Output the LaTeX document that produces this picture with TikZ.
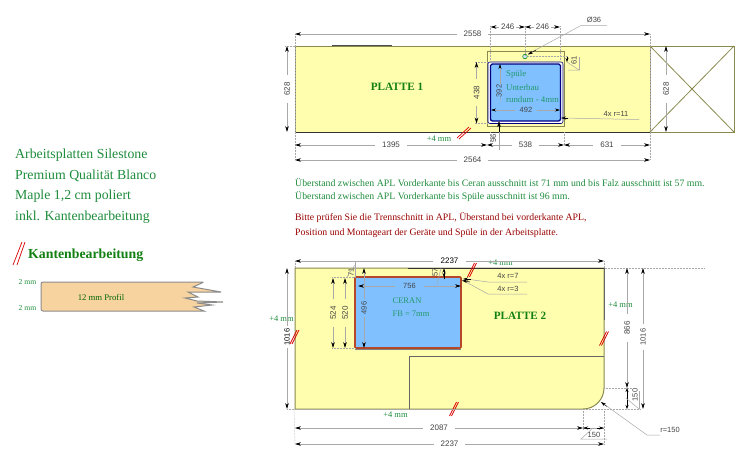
\documentclass[tikz,border=0pt]{standalone}
\usepackage{fontspec}
\setmainfont{Liberation Serif}
\setsansfont{Liberation Sans}
\usetikzlibrary{arrows.meta}
\definecolor{plate}{HTML}{FFFDAE}
\definecolor{sinkblue}{HTML}{80C0FF}
\definecolor{edgeol}{HTML}{8A8A50}
\definecolor{gtext}{HTML}{1E8C3C}
\definecolor{sinktxt}{HTML}{22996A}
\definecolor{ptitle}{HTML}{128012}
\definecolor{dimg}{HTML}{A8A8A8}
\definecolor{dimt}{HTML}{444444}
\definecolor{ceran}{HTML}{B5482A}
\definecolor{wood}{HTML}{F7D3A0}
\tikzset{
  x=1pt,y=-1pt,
  dimline/.style={draw=dimg,line width=0.7pt,{Stealth[length=6pt,width=3.6pt,black]}-{Stealth[length=6pt,width=3.6pt,black]}},
  leader/.style={draw=dimg,line width=0.5pt},
  ext/.style={draw=dimg,line width=0.5pt,densely dotted},
  dimtxt/.style={font=\sffamily\fontsize{8}{9}\selectfont,text=dimt,fill=white,inner xsep=7pt,inner ysep=1pt},
  dimtxtb/.style={font=\sffamily\fontsize{7.5}{8}\selectfont,text=dimt,inner sep=0.5pt},
  gnote/.style={font=\fontsize{8.5}{10}\selectfont,text=gtext,inner sep=0pt},
  snote/.style={font=\fontsize{8.8}{10}\selectfont,text=sinktxt,inner sep=0pt},
  ptxt/.style={font=\bfseries\fontsize{11.2}{14}\selectfont,text=ptitle,inner sep=0pt},
  lefttxt/.style={font=\fontsize{13.8}{15}\selectfont,text=gtext,anchor=west,inner sep=0pt},
  plateedge/.style={draw=edgeol,line width=1pt,fill=plate},
  slash/.style={draw=red!85!black,line width=0.7pt},
  notetxt/.style={font=\fontsize{9.8}{11}\selectfont,anchor=west,inner sep=0pt},
}
\newcommand{\hdim}[4]{\draw[dimline] (#1,#3) -- (#2,#3) node[midway,dimtxt] {#4};}
\newcommand{\vdim}[4]{\draw[dimline] (#3,#1) -- (#3,#2) node[midway,dimtxt,rotate=90] {#4};}
\newcommand{\vdimp}[4]{\draw[dimline] (#3,#1) -- (#3,#2) node[midway,dimtxt,fill=plate,rotate=90] {#4};}
\newcommand{\kslash}[2]{\draw[slash] (#1-4.5,#2+7) -- (#1+2.5,#2-7); \draw[slash] (#1-2.5,#2+7) -- (#1+4.5,#2-7);}
\begin{document}
\begin{tikzpicture}
\useasboundingbox[fill=white] (0,0) rectangle (750,461);
% ---- left legend
\node[lefttxt] at (15,155) {Arbeitsplatten Silestone};
\node[lefttxt] at (15,176) {Premium Qualität Blanco};
\node[lefttxt] at (15,196) {Maple 1,2 cm poliert};
\node[lefttxt] at (15,217) {inkl. Kantenbearbeitung};
\draw[slash] (13,265) -- (22,242); \draw[slash] (17,265) -- (25,242);
\node[font=\bfseries\fontsize{13.8}{15}\selectfont,text=ptitle,anchor=west,inner sep=0pt] at (28,255) {Kantenbearbeitung};
\node[gnote,font=\fontsize{7.6}{8}\selectfont] at (27.5,282) {2 mm};
\node[gnote,font=\fontsize{7.6}{8}\selectfont] at (27.5,308) {2 mm};
\draw[draw=black!45,line width=1pt,fill=wood,rounded corners=2pt]
  (41,282) -- (204,282) [sharp corners] -- (193,287) -- (221,292) -- (188,292) -- (198,297) -- (185,298) -- (197,301) -- (223,302) -- (197,303) -- (212,305) -- (194,307) -- (204,311) [rounded corners=2pt] -- (41,311) -- cycle;
\node[gnote,font=\fontsize{8.7}{9}\selectfont,text=black!20!green!50!black] at (101,297) {12 mm Profil};
% ---- plate 1
\draw[plateedge] (295,46) rectangle (650,132);
\draw[black!80,line width=1pt] (295,132) -- (650,132);
\draw[black!70,line width=1pt] (332,45.6) -- (392,45.6);
\draw[edgeol,line width=1pt] (650,46) rectangle (734,132);
\draw[edgeol,line width=0.8pt] (650,46) -- (734,132) (650,132) -- (734,46);
\draw[edgeol,line width=0.6pt] (487,51) rectangle (564,126);
\draw[draw=blue!50!black,line width=0.6pt,fill=white,rounded corners=2pt] (488,62) rectangle (563,123.5);
\draw[draw=blue!50!black,line width=1.3pt,fill=sinkblue,rounded corners=2pt] (490.5,64) rectangle (560.5,121);
\draw[draw=green!50!black,line width=0.5pt,fill=sinkblue!40] (525,56.5) circle (2.3);
\node[ptxt] at (397,87) {PLATTE 1};
\node[snote,anchor=west] at (506,74.5) {Spüle};
\node[snote,anchor=west] at (506,87) {Unterbau};
\node[snote,anchor=west] at (506,99.5) {rundum - 4mm};
\node[gnote] at (439,139) {+4 mm};
\draw[slash] (457,138) -- (469,127); \draw[slash] (459,139) -- (471,128);
% extension lines plate 1
\draw[ext] (295,34) -- (295,160);
\draw[ext] (650,34) -- (650,160);
\draw[ext] (490.5,26) -- (490.5,64) (525,26) -- (525,56) (560,26) -- (560,64);
\draw[ext] (487,62) -- (474,62) (487,123.5) -- (474,123.5);
\draw[ext] (285,46) -- (295,46);
\draw[ext] (528,56.5) -- (568,56.5);
\draw[ext] (564,132) -- (564,145);
\draw[ext] (490,132) -- (490,145);
% dims plate 1
\hdim{295}{650}{34}{2558}
\draw[dimline] (490.5,27) -- (525,27) node[midway,dimtxt,inner xsep=2pt] {246};
\draw[dimline] (525,27) -- (560,27) node[midway,dimtxt,inner xsep=2pt] {246};
\hdim{295}{487}{145}{1395}
\hdim{487}{564}{145}{538}
\hdim{564}{650}{145}{631}
\hdim{295}{650}{160}{2564}
\vdim{46}{132}{287}{628}
\vdimp{62}{123.5}{476.5}{438}
\vdim{46}{132}{666}{628}
\draw[leader,-{Stealth[length=5pt,width=3pt,black]}] (500,100) -- (500,64);
\draw[leader,{Stealth[length=5pt,width=3pt,black]}-{Stealth[length=5pt,width=3pt,black]}] (491,110) -- (560,110);
\node[dimtxtb,fill=sinkblue,rotate=90] at (499,91) {392};
\node[dimtxtb,fill=sinkblue,inner xsep=5pt] at (526,110) {492};
\draw[leader,-{Stealth[length=5pt,width=3pt,black]}] (499,150) -- (499,121);
\draw[-{Stealth[length=5pt,width=3pt,black]},draw=black] (499,132) -- (499,122);
\node[dimtxtb,rotate=90] at (493.5,138) {96};
\draw[-{Stealth[length=4pt,width=3pt,black]},draw=black,line width=0.5pt] (567,57) -- (567,62);
\draw[leader] (567,62) -- (579,70) -- (568,70);
\draw[leader] (579,70) -- (579,57);
\node[dimtxtb,rotate=90] at (574,60) {61};
\node[dimtxtb] at (594,20) {Ø36};
\draw[leader] (607,25.5) -- (581,25.5) -- (528,54);
\draw[-{Stealth[length=5pt,width=3pt,black]},black,line width=0.4pt] (536,50) -- (528,54.5);
\draw[leader] (639,119.5) -- (562,118);
\draw[-{Stealth[length=5pt,width=3pt,black]},black,line width=0.4pt] (568,118) -- (561,118);
\node[dimtxtb] at (616,114) {4x r=11};
% ---- notes
\node[notetxt,text=gtext] at (295,183) {Überstand zwischen APL Vorderkante bis Ceran ausschnitt ist 71 mm und bis Falz ausschnitt ist 57 mm.};
\node[notetxt,text=gtext] at (295,197) {Überstand zwischen APL Vorderkante bis Spüle ausschnitt ist 96 mm.};
\node[notetxt,text=red!60!black] at (295,218) {Bitte prüfen Sie die Trennschnitt in APL, Überstand bei vorderkante APL,};
\node[notetxt,text=red!60!black] at (295,233) {Position und Montageart der Geräte und Spüle in der Arbeitsplatte.};
% ---- plate 2
\draw[plateedge] (295,268) -- (604,268) -- (604,388) arc[start angle=0,end angle=90,radius=21] -- (295,409) -- cycle;
\draw[black!80,line width=1pt] (408,268) -- (604,268);
\draw[black!60,line width=0.8pt] (409,409) -- (409,356) -- (604,356);
\draw[black!60,line width=1pt] (604,320) -- (604,268);
\draw[draw=ceran,line width=1.6pt,fill=sinkblue,rounded corners=1pt] (355,277) rectangle (461,348);
\draw[draw=black!50,line width=0.5pt] (355,349.5) -- (461,349.5);
\node[ptxt] at (520,316) {PLATTE 2};
\node[snote,font=\fontsize{8.5}{10}\selectfont] at (407,301) {CERAN};
\node[snote,font=\fontsize{8.5}{10}\selectfont] at (411,314) {FB = 7mm};
\node[gnote] at (281.5,319) {+4 mm};
\node[gnote] at (500.5,262.5) {+4 mm};
\node[gnote] at (620.5,305) {+4 mm};
\node[gnote] at (395.5,415) {+4 mm};
\kslash{294.5}{337}
\kslash{472}{270}
\kslash{604}{338.5}
\kslash{454}{409}
% ext plate 2
\draw[ext] (295,261) -- (295,268);
\draw[ext] (604,261) -- (604,268) -- (705,268);
\draw[ext] (294,409) -- (295,445);
\draw[ext] (604,409) -- (604,445);
\draw[ext] (583,409) -- (583,430);
\draw[ext] (604,388) -- (632,388);
\draw[ext] (287,409) -- (640,409);
\draw[ext] (355,277) -- (332,277);
\draw[ext] (355,348.5) -- (332,348.5);
\draw[leader] (355,262) -- (355,277);
% dims plate 2
\draw[dimline] (295,261) -- (604,261);
\node[dimtxt,text=black,inner xsep=8pt] at (449.5,260.5) {2237};
\draw[dimline] (287,268) -- (287,409);
\node[dimtxtb,rotate=90,fill=white,text=black,inner xsep=3pt] at (287,337) {1016};
\vdimp{278}{348}{333}{524}
\vdimp{278}{348}{345}{520}
\draw[dimline] (364,268) -- (364,348) node[midway,dimtxtb,fill=sinkblue,rotate=90,inner xsep=3pt] {496};
\node[dimtxtb,rotate=90] at (351,272) {71};
\draw[leader] (347,277) -- (355,265);
\draw[dimline] (358,286) -- (461,286) node[midway,dimtxtb,fill=sinkblue,inner xsep=8pt] {756};
\draw[-{Stealth[length=4pt,width=3pt,black]},black,line width=0.5pt] (444,279) -- (444,268.5);
\draw[-{Stealth[length=4pt,width=3pt,black]},black,line width=0.5pt] (444,270) -- (444,277);
\node[dimtxtb,rotate=90] at (435,272) {57};
\draw[leader] (441,268) -- (437,285);
\draw[leader] (466,279) -- (488,282) -- (527,282);
\draw[leader] (464,281) -- (488,294) -- (527,294);
\draw[-{Stealth[length=5pt,width=3pt,black]},black,line width=0.5pt] (471,279) -- (463,279);
\draw[-{Stealth[length=5pt,width=3pt,black]},black,line width=0.5pt] (470,282) -- (462,280.5);
\node[dimtxtb] at (508,276) {4x r=7};
\node[dimtxtb] at (508,289) {4x r=3};
\vdim{268}{388}{627}{866}
\draw[dimline] (643,268) -- (643,409);
\node[dimtxtb,rotate=90,fill=white,inner xsep=5pt] at (643,337) {1016};
\draw[-{Stealth[length=4pt,width=3pt,black]},black,line width=0.5pt] (627,398) -- (627,388);
\draw[-{Stealth[length=4pt,width=3pt,black]},black,line width=0.5pt] (627,398) -- (627,409);
\draw[leader] (626,398) -- (639,409);
\draw[leader] (639,409) -- (639,391);
\node[dimtxtb,rotate=90] at (635,395) {150};
\hdim{295}{583}{428}{2087}
\draw[leader] (583,428) -- (604,428);
\draw[-{Stealth[length=5pt,width=3pt,black]},black,line width=0.5pt] (590,428) -- (583,428);
\draw[-{Stealth[length=5pt,width=3pt,black]},black,line width=0.5pt] (597,428) -- (604,428);
\draw[leader] (593,428) -- (581,439) -- (607,439);
\node[dimtxtb] at (594,435) {150};
\hdim{295}{604}{444}{2237}
\draw[leader] (601,402) -- (647,435) -- (660,435);
\draw[-{Stealth[length=5pt,width=3pt,black]},black,line width=0.4pt] (607,406.5) -- (601,402);
\node[dimtxtb] at (670,430) {r=150};
\end{tikzpicture}
\end{document}
